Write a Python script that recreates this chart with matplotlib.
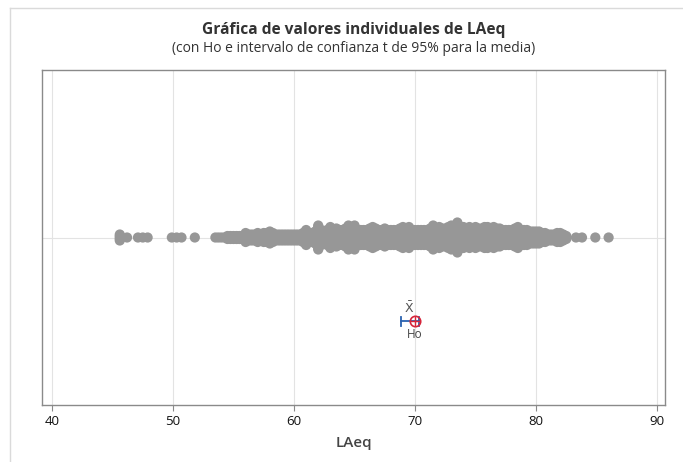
import numpy as np
import matplotlib.pyplot as plt
from matplotlib.lines import Line2D

plt.rcParams['font.family'] = ['Open Sans', 'Noto Sans', 'DejaVu Sans']

# isolated LAeq readings at both tails (value, dots stacked)
tail_x = [45.6, 46.2, 47.1, 47.5, 47.9, 49.9, 50.3, 50.7, 51.8,
          83.3, 83.8, 84.9, 86.0]
tail_n = [5, 1, 1, 1, 1, 1, 1, 1, 1,
          1, 1, 1, 1]

# main body: columns every 0.25 dB from 53.5 to 82.5, dots stacked per column
body_start = 53.5
body_step = 0.25
body_n = [1, 1, 1, 1, 3, 3, 3, 3, 3, 3,                    # 53.5 - 55.75
          7, 5, 5, 5, 7, 5, 7, 7, 9, 7, 5, 5,              # 56 - 58.75
          5, 5, 5, 5, 5, 5, 5, 7,                          # 59 - 60.75
          11, 7, 7, 9, 17, 11, 9, 11, 15, 11, 13, 11,      # 61 - 63.75
          11, 13, 17, 13, 17, 11, 11, 11, 11, 13, 15, 13,  # 64 - 66.75
          11, 11, 13, 11, 11, 11, 11, 13, 15, 13, 15, 11,  # 67 - 69.75
          11, 11, 11, 11, 11, 13, 17, 13, 15, 13, 13, 15,  # 70 - 72.75
          17, 15, 21, 15, 15, 13, 15, 13, 15, 13, 13, 15,  # 73 - 75.75
          15, 13, 15, 13, 13, 11, 11, 11, 11, 13, 15, 11,  # 76 - 78.75
          11, 11, 9, 9, 9, 9, 7, 7, 5, 5, 5, 7,            # 79 - 81.75
          7, 5, 3]                                         # 82 - 82.5
body_x = body_start + body_step * np.arange(len(body_n))

mean_val = 69.6
ci_low = 68.85
ci_high = 70.35
ho_val = 70.0

title = 'Gráfica de valores individuales de LAeq'
subtitle = '(con Ho e intervalo de confianza t de 95% para la media)'
xticks = [40, 50, 60, 70, 80, 90]

fig = plt.figure(figsize=(6.83, 4.62), dpi=100)
ax = fig.add_axes([42/683, 1-405/462, 623/683, 335/462])

px = 2.0 / 335  # one pixel in y data units
sp = 1.5 * px

xs = []
ys = []
for x, n in zip(list(tail_x) + list(body_x), list(tail_n) + list(body_n)):
    offs = (np.arange(n) - (n - 1) / 2) * sp
    xs.extend([x] * n)
    ys.extend(1 + offs)

ax.scatter(xs, ys, s=54, c='#979797', edgecolors='none', zorder=3)

# confidence interval for the mean and Ho
blue = '#2a62b0'
red = '#d6263b'
ax.plot([ci_low, ci_high], [0.5, 0.5], color=blue, lw=1.3, zorder=4)
for c in (ci_low, ci_high):
    ax.plot([c, c], [0.5 - 4.5*px, 0.5 + 4.5*px], color=blue, lw=1.3, zorder=4)
ax.plot(ho_val, 0.5, marker='o', ms=7.5, mfc='none', mec=red, mew=1.2, zorder=5)
ax.plot(ho_val, 0.5, marker='+', ms=7.5, mec=red, mew=1.0, zorder=5)
ax.annotate(r'$\bar{\mathrm{X}}$', (mean_val, 0.5), xytext=(-0.5, 4),
            textcoords='offset points', ha='center', va='bottom',
            fontsize=9, color='#555555')
ax.annotate('Ho', (ho_val, 0.5), xytext=(0, -5), textcoords='offset points',
            ha='center', va='top', fontsize=8.5, color='#444444')

ax.set_xlim(39.17, 90.66)
ax.set_ylim(0, 2)
ax.set_xticks(xticks)
ax.set_yticks([])
ax.grid(False)
for t in xticks:
    ax.axvline(t, color='#e3e3e3', lw=0.8, zorder=0)
ax.axhline(1, color='#e3e3e3', lw=0.8, zorder=0)

for s in ax.spines.values():
    s.set_color('#8a8a8a')
    s.set_linewidth(1.0)
ax.tick_params(axis='x', direction='out', length=4, color='#8a8a8a',
               labelsize=9.5, labelcolor='#111111', pad=3)
ax.set_xlabel('LAeq', fontsize=11, color='#444444', labelpad=6,
              fontweight='semibold')

fig.text((42 + 665) / 2 / 683, 1 - 30/462, title, ha='center', va='center',
         fontsize=11.2, fontweight='bold', color='#333333')
fig.text((42 + 665) / 2 / 683, 1 - 48/462, subtitle, ha='center', va='center',
         fontsize=10, color='#333333')

# outer frame visible on the top and left
fig.add_artist(Line2D([10/683, 1], [1 - 8/462, 1 - 8/462], color='#dadada', lw=1))
fig.add_artist(Line2D([10/683, 10/683], [0, 1 - 8/462], color='#dadada', lw=1))

fig.savefig('out.png', dpi=100)
